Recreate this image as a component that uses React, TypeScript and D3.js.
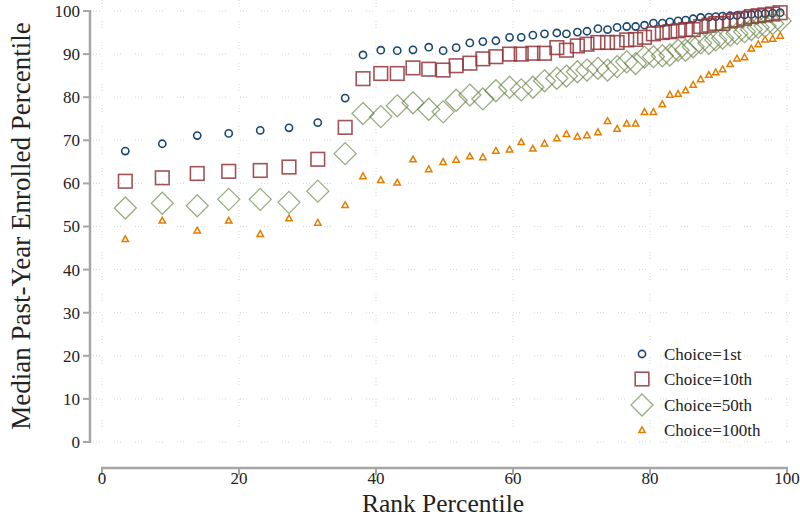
import React from "react";
import * as d3 from "d3";

const xVals = [3.4, 8.8, 13.9, 18.5, 23.1, 27.3, 31.5, 35.5, 38.1, 40.7, 43.1, 45.4, 47.7, 49.8, 51.7, 53.7, 55.6, 57.5, 59.5, 61.2, 62.9, 64.6, 66.4, 67.8, 69.4, 70.8, 72.4, 73.8, 75.2, 76.6, 77.9, 79.2, 80.5, 81.8, 82.9, 84.1, 85.2, 86.3, 87.4, 88.6, 89.6, 90.6, 91.7, 92.7, 93.8, 94.8, 95.8, 96.8, 97.9, 99.0];

const choice1 = [67.5, 69.2, 71.1, 71.6, 72.3, 72.9, 74.1, 79.8, 89.8, 90.9, 90.8, 91.0, 91.6, 90.8, 91.5, 92.6, 92.9, 93.1, 93.9, 93.9, 94.4, 94.7, 94.9, 94.7, 95.1, 95.3, 95.9, 95.7, 96.2, 96.4, 96.4, 96.7, 97.2, 97.2, 97.5, 97.7, 97.9, 98.2, 98.5, 98.6, 98.7, 98.8, 98.9, 99.0, 99.1, 99.2, 99.3, 99.4, 99.5, 99.6];

const choice10 = [60.5, 61.3, 62.3, 62.8, 63.0, 63.8, 65.6, 73.0, 84.3, 85.5, 85.5, 86.8, 86.5, 86.3, 87.3, 87.9, 88.9, 89.4, 90.0, 90.0, 90.2, 90.2, 91.5, 90.9, 91.9, 92.3, 92.7, 92.7, 92.7, 93.3, 93.4, 93.9, 94.7, 95.0, 95.2, 95.4, 95.7, 95.7, 96.4, 96.7, 97.1, 97.1, 97.7, 97.9, 98.3, 98.7, 98.9, 99.1, 99.3, 99.6];

const choice50 = [54.3, 55.4, 54.8, 56.3, 56.3, 55.6, 58.2, 66.9, 76.2, 75.5, 78.0, 78.7, 77.2, 76.6, 79.3, 80.5, 79.6, 81.5, 82.3, 81.7, 82.3, 83.8, 84.4, 84.9, 85.9, 86.3, 86.7, 86.3, 87.1, 88.2, 87.8, 89.3, 89.4, 89.6, 89.8, 90.9, 90.9, 91.7, 92.6, 92.5, 93.3, 93.7, 94.4, 94.8, 95.2, 95.7, 96.2, 96.5, 97.1, 97.7];

const choice100 = [47.1, 51.4, 49.1, 51.4, 48.3, 51.9, 50.9, 55.0, 61.7, 60.8, 60.2, 65.6, 63.3, 65.0, 65.5, 66.3, 66.1, 67.6, 67.9, 69.6, 68.1, 69.3, 70.5, 71.5, 70.9, 71.2, 71.9, 74.5, 72.7, 73.9, 73.9, 76.6, 76.6, 78.4, 80.6, 80.8, 81.6, 82.9, 84.2, 85.2, 85.8, 86.5, 87.7, 89.0, 89.3, 91.3, 92.3, 93.4, 93.6, 94.3];

const seriesNames = ["Choice=1st", "Choice=10th", "Choice=50th", "Choice=100th"];
const xTicks = [0, 20, 40, 60, 80, 100];
const yTicks = [0, 10, 20, 30, 40, 50, 60, 70, 80, 90, 100];

const FONT = "'Liberation Serif', 'Times New Roman', serif";

type Style = { kind: string; color: string; opacity: number; sw: number };
const styles: Style[] = [
  { kind: "circle", color: "#1a476f", opacity: 1, sw: 1.6 },
  { kind: "square", color: "#90353b", opacity: 0.85, sw: 1.6 },
  { kind: "diamond", color: "#55752f", opacity: 0.6, sw: 1.3 },
  { kind: "triangle", color: "#e37e00", opacity: 1, sw: 1.5 },
];

function Marker({ kind, x, y, color, opacity, sw }: any) {
  if (kind === "circle")
    return <circle cx={x} cy={y} r={3.6} fill="none" stroke={color} strokeWidth={sw} opacity={opacity} />;
  if (kind === "square")
    return <rect x={x - 6.8} y={y - 6.8} width={13.6} height={13.6} fill="none" stroke={color} strokeWidth={sw} opacity={opacity} />;
  if (kind === "diamond") {
    const h = 11;
    return (
      <path d={`M${x},${y - h}L${x + h},${y}L${x},${y + h}L${x - h},${y}Z`} fill="none" stroke={color} strokeWidth={sw} opacity={opacity} />
    );
  }
  const s = 3.2;
  return (
    <path d={`M${x},${y - s}L${x + s},${y + s * 0.8}L${x - s},${y + s * 0.8}Z`} fill="none" stroke={color} strokeWidth={sw} opacity={opacity} />
  );
}

export default function App() {
  const W = 800, H = 518;
  const x = d3.scaleLinear().domain([0, 100]).range([102, 787]);
  const y = d3.scaleLinear().domain([0, 100]).range([442, 11]);
  const series = [choice1, choice10, choice50, choice100];
  const gridDash = "1,2,1,2,1,14";
  const axisColor = "#a6a6a6";

  return (
    <svg width={W} height={H} style={{ position: "absolute", left: 0, top: 0, background: "#fff" }} fontFamily={FONT}>
      <rect width={W} height={H} fill="#fff" />
      {/* grid */}
      {yTicks.map((t) => (
        <line key={"gy" + t} x1={93} x2={790} y1={y(t)} y2={y(t)} stroke="#d6d6d6" strokeWidth={1} strokeDasharray={gridDash} />
      ))}
      {xTicks.map((t) => (
        <line key={"gx" + t} x1={x(t)} x2={x(t)} y1={0} y2={443} stroke="#d6d6d6" strokeWidth={1} strokeDasharray={gridDash} />
      ))}
      {/* y axis */}
      <line x1={90} x2={90} y1={y(100) - 1} y2={y(0) + 1} stroke={axisColor} strokeWidth={2.5} />
      {yTicks.map((t) => (
        <g key={"yt" + t}>
          <line x1={83} x2={90} y1={y(t)} y2={y(t)} stroke={axisColor} strokeWidth={2} />
          <text x={80} y={y(t)} dy="0.35em" textAnchor="end" fontSize={17} fill="#222">{t}</text>
        </g>
      ))}
      {/* x axis */}
      <line x1={x(0) - 1} x2={x(100) + 1} y1={468} y2={468} stroke={axisColor} strokeWidth={2.5} />
      {xTicks.map((t) => (
        <g key={"xt" + t}>
          <line x1={x(t)} x2={x(t)} y1={468} y2={475} stroke={axisColor} strokeWidth={2} />
          <text x={x(t)} y={484} textAnchor="middle" fontSize={17} fill="#222">{t}</text>
        </g>
      ))}
      <text x={443} y={512} textAnchor="middle" fontSize={25.5} fill="#222">Rank Percentile</text>
      <text transform="translate(30,226) rotate(-90)" textAnchor="middle" fontSize={27} fill="#222">Median Past-Year Enrolled Percentile</text>
      {/* points */}
      {series.map((vals, si) => (
        <g key={"s" + si}>
          {vals.map((v, i) => (
            <Marker key={i} kind={styles[si].kind} x={x(xVals[i])} y={y(v)} color={styles[si].color} opacity={styles[si].opacity} sw={styles[si].sw} />
          ))}
        </g>
      ))}
      {/* legend */}
      {seriesNames.map((n, i) => {
        const ly = [354, 379, 405, 430][i];
        return (
          <g key={"lg" + i}>
            <Marker kind={styles[i].kind} x={642} y={ly} color={styles[i].color} opacity={styles[i].opacity} sw={styles[i].sw} />
            <text x={664} y={ly} dy="0.35em" fontSize={17} fill="#222">{n}</text>
          </g>
        );
      })}
    </svg>
  );
}
